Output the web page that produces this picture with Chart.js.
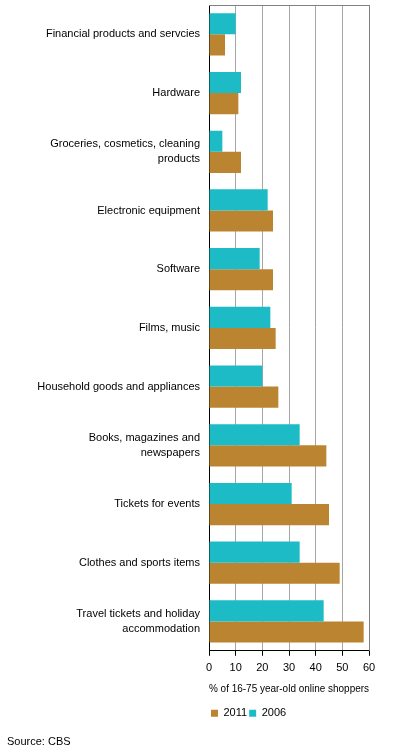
<!DOCTYPE html>
<html>
<head>
<meta charset="utf-8">
<script src="https://cdn.jsdelivr.net/npm/chart.js@4.4.0/dist/chart.umd.min.js"></script>
<style>
  html, body { margin: 0; padding: 0; background: #fff; }
  #wrap { position: relative; width: 396px; height: 756px; }
</style>
</head>
<body>
<div id="wrap"><canvas id="chart" width="396" height="756"></canvas></div>
<script>
// Online purchases by category, 2006 vs 2011 (CBS)

const categories = [
    'Financial products and servcies',
    'Hardware',
    ['Groceries, cosmetics, cleaning', 'products'],
    'Electronic equipment',
    'Software',
    'Films, music',
    'Household goods and appliances',
    ['Books, magazines and', 'newspapers'],
    'Tickets for events',
    'Clothes and sports items',
    ['Travel tickets and holiday', 'accommodation']
];
const values2006 = [10, 12, 5, 22, 19, 23, 20, 34, 31, 34, 43];
const values2011 = [6, 11, 12, 24, 24, 25, 26, 44, 45, 49, 58];
const xTicks = [0, 10, 20, 30, 40, 50, 60];

const cyan = '#1dbbc6';
const brown = '#bb8430';
const font = { family: '"Liberation Sans", Arial, sans-serif', size: 11, lineHeight: 1.36 };

// grey frame on top and right of the plot area
const frame = {
    id: 'frame',
    afterDraw(chart) {
        const { ctx, chartArea: a } = chart;
        ctx.save();
        ctx.strokeStyle = '#808080';
        ctx.lineWidth = 1;
        ctx.beginPath();
        ctx.moveTo(a.left, a.top + 0.5);
        ctx.lineTo(a.right + 0.5, a.top + 0.5);
        ctx.lineTo(a.right + 0.5, a.bottom);
        ctx.stroke();
        ctx.restore();
    }
};

Chart.defaults.font = font;
Chart.defaults.color = '#000';

// the two bars of a category touch each other
const barOpts = { categoryPercentage: 0.72, barPercentage: 1, borderWidth: 0 };

new Chart(document.getElementById('chart').getContext('2d'), {
    type: 'bar',
    data: {
        labels: categories,
        datasets: [
            { label: '2006', data: values2006, backgroundColor: cyan, ...barOpts },
            { label: '2011', data: values2011, backgroundColor: brown, ...barOpts }
        ]
    },
    options: {
        indexAxis: 'y',
        responsive: false,
        animation: false,
        devicePixelRatio: 1,
        layout: { padding: { top: 5, right: 27, left: 7, bottom: 0 } },
        scales: {
            x: {
                min: 0, max: 60,
                afterBuildTicks: s => { s.ticks = xTicks.map(v => ({ value: v })); },
                grid: { color: '#a6a6a6', tickColor: '#000', tickLength: 5 },
                border: { color: '#000', width: 1 },
                ticks: { padding: 5, font },
                title: { display: true, text: '% of 16-75 year-old online shoppers', font, padding: { top: 6, bottom: 9 } },
                afterFit: s => { s.height = 55; }
            },
            y: {
                grid: { display: false, drawTicks: false },
                border: { color: '#000', width: 1 },
                ticks: { padding: 9, font },
                afterFit: s => { s.width = 202; s.paddingTop = 0; s.paddingBottom = 0; }
            }
        },
        plugins: {
            legend: {
                position: 'bottom',
                align: 'start',
                fullSize: false,
                reverse: true,
                labels: { boxWidth: 7, boxHeight: 7, padding: 2, font, color: '#000' }
            },
            title: {
                display: true,
                position: 'bottom',
                align: 'start',
                text: 'Source: CBS',
                font: { family: font.family, size: 11, weight: 'normal', lineHeight: 1.2 },
                color: '#000',
                padding: { top: 7, bottom: 7 }
            },
            tooltip: { enabled: false }
        }
    },
    plugins: [frame]
});
</script>
</body>
</html>
